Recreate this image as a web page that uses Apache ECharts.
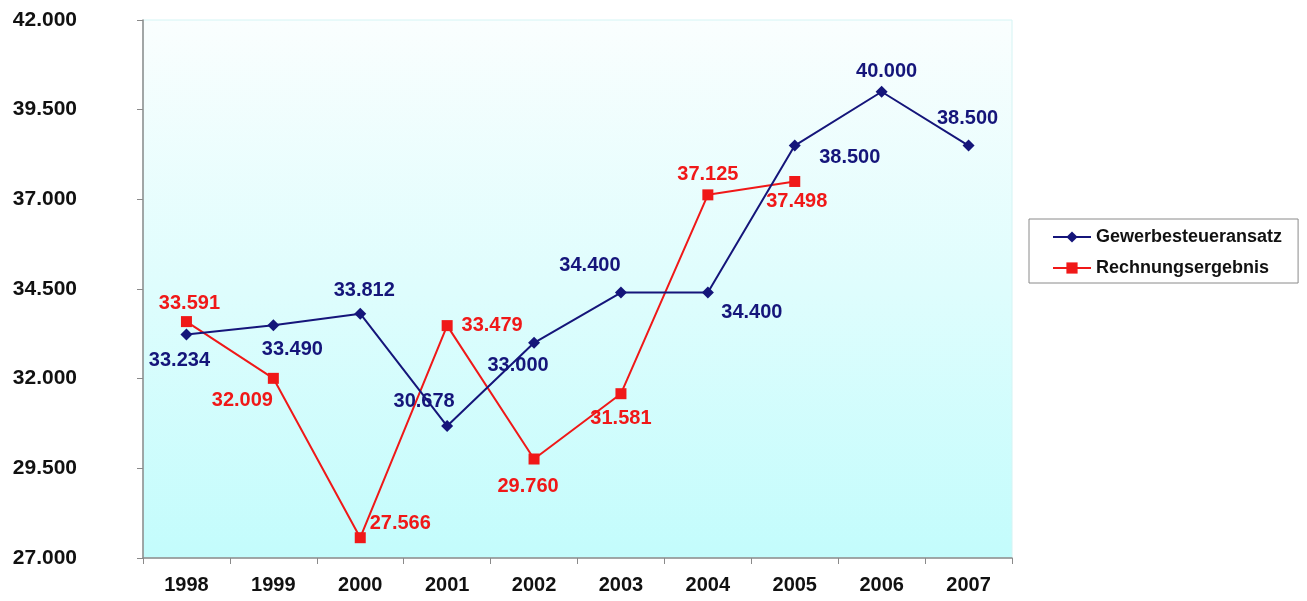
<!DOCTYPE html>
<html>
<head>
<meta charset="utf-8">
<script src="https://cdn.jsdelivr.net/npm/echarts@6/dist/echarts.min.js"></script>
<style>
html,body{margin:0;padding:0;background:#fff;}
#chart{width:1307px;height:601px;}
</style>
</head>
<body>
<div id="chart"></div>
<script>
const categories = ['1998','1999','2000','2001','2002','2003','2004','2005','2006','2007'];
const gewerbesteueransatz = [33234, 33490, 33812, 30678, 33000, 34400, 34400, 38500, 40000, 38500];
const rechnungsergebnis = [33591, 32009, 27566, 33479, 29760, 31581, 37125, 37498, null, null];
const yTicks = { min: 27000, max: 42000, step: 2500 };

function fmt(v) {
  return String(Math.round(v)).replace(/\B(?=(\d{3})+(?!\d))/g, '.');
}

const blueOffsets = [[-7,26],[19,24],[4,-23],[-23,-25],[-16,23],[-31,-27],[44,20],[55,12],[5,-20],[-1,-27]];
const redOffsets = [[3,-18],[-31,22],[40,-14],[45,0],[-6,27],[0,25],[0,-20],[2,20],[0,0],[0,0]];

const BLUE = '#15157a';
const RED = '#f01818';
const FONT = 'Liberation Sans, Arial, sans-serif';
const labelFont = { fontFamily: FONT, fontWeight: 'bold', fontSize: 20 };

function mkData(values, offsets, color) {
  return values.map((v, i) => ({
    value: v,
    label: {
      show: v !== null,
      position: 'inside',
      offset: offsets[i],
      align: 'center',
      verticalAlign: 'middle',
      color: color,
      formatter: p => fmt(p.value),
      ...labelFont
    }
  }));
}

const chart = echarts.init(document.getElementById('chart'), null, { renderer: 'canvas' });
chart.setOption({
  animation: false,
  backgroundColor: '#ffffff',
  grid: {
    left: 143, right: 295, top: 20, bottom: 43,
    show: true,
    borderColor: '#d4f4f4',
    borderWidth: 1,
    backgroundColor: {
      type: 'linear', x: 0, y: 0, x2: 0, y2: 1,
      colorStops: [
        { offset: 0, color: '#fafefe' },
        { offset: 1, color: '#c3fcfc' }
      ]
    }
  },
  legend: {
    orient: 'vertical',
    left: 1029,
    top: 219,
    padding: [9, 16, 6, 23],
    itemWidth: 38,
    itemHeight: 14,
    itemGap: 13,
    borderColor: '#8a8a8a',
    borderWidth: 1,
    backgroundColor: '#ffffff',
    textStyle: { color: '#111', fontFamily: FONT, fontWeight: 'bold', fontSize: 18 },
    data: ['Gewerbesteueransatz', 'Rechnungsergebnis']
  },
  xAxis: {
    type: 'category',
    data: categories,
    boundaryGap: true,
    axisLine: { show: true, lineStyle: { color: '#8a8a8a', width: 1.5 } },
    axisTick: { show: true, length: 6, inside: false, lineStyle: { color: '#8a8a8a' } },
    axisLabel: { margin: 17, color: '#111', fontFamily: FONT, fontWeight: 'bold', fontSize: 20 },
    splitLine: { show: false }
  },
  yAxis: {
    type: 'value',
    min: yTicks.min,
    max: yTicks.max,
    interval: yTicks.step,
    axisLine: { show: true, lineStyle: { color: '#8a8a8a', width: 1.5 } },
    axisTick: { show: true, length: 6, inside: false, lineStyle: { color: '#8a8a8a' } },
    axisLabel: { margin: 66, color: '#111', fontFamily: FONT, fontWeight: 'bold', fontSize: 21, formatter: v => fmt(v) },
    splitLine: { show: false }
  },
  series: [
    {
      name: 'Gewerbesteueransatz',
      type: 'line',
      data: mkData(gewerbesteueransatz, blueOffsets, BLUE),
      symbol: 'diamond',
      symbolSize: 12,
      itemStyle: { color: BLUE },
      lineStyle: { color: BLUE, width: 2 },
      z: 3
    },
    {
      name: 'Rechnungsergebnis',
      type: 'line',
      data: mkData(rechnungsergebnis, redOffsets, RED),
      symbol: 'rect',
      symbolSize: 11,
      connectNulls: false,
      itemStyle: { color: RED },
      lineStyle: { color: RED, width: 2 },
      z: 2
    }
  ]
});
</script>
</body>
</html>
